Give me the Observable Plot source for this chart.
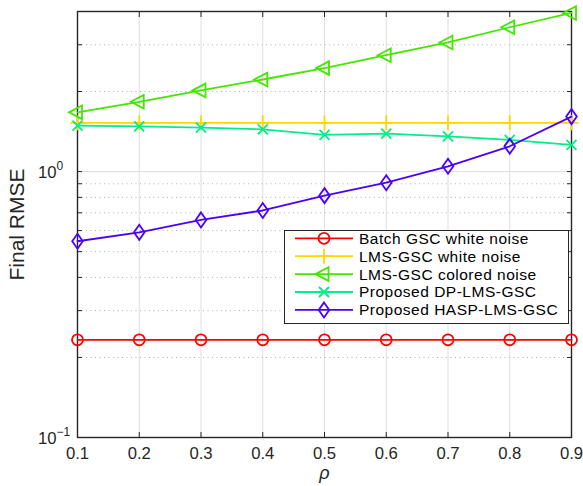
<!DOCTYPE html>
<html><head><meta charset="utf-8">
<script src="https://cdn.jsdelivr.net/npm/d3@7"></script>
<script src="https://cdn.jsdelivr.net/npm/@observablehq/plot@0.6"></script>
<style>
body{margin:0;background:#fff;}
#wrap{position:relative;width:583px;height:486px;font-family:"Liberation Sans",Arial,sans-serif;}
#legend{position:absolute;left:284px;top:230px;}
</style></head><body><div id="wrap"></div>
<script>
// ---- data ----
const rho = [0.1, 0.2, 0.3, 0.4, 0.5, 0.6, 0.7, 0.8, 0.9];
const batchGscWhite = [0.233, 0.233, 0.233, 0.233, 0.233, 0.233, 0.233, 0.233, 0.233];
const lmsGscWhite = [1.525, 1.525, 1.525, 1.525, 1.525, 1.525, 1.525, 1.525, 1.525];
const lmsGscColored = [1.67, 1.83, 2.02, 2.22, 2.45, 2.74, 3.06, 3.49, 3.95];
const dpLmsGsc = [1.49, 1.48, 1.463, 1.442, 1.374, 1.39, 1.356, 1.315, 1.26];
const haspLmsGsc = [0.547, 0.591, 0.658, 0.714, 0.812, 0.908, 1.047, 1.245, 1.61];
const seriesNames = ["Batch GSC white noise", "LMS-GSC white noise", "LMS-GSC colored noise", "Proposed DP-LMS-GSC", "Proposed HASP-LMS-GSC"];
const seriesValues = [batchGscWhite, lmsGscWhite, lmsGscColored, dpLmsGsc, haspLmsGsc];
const seriesColors = ["#ff0000", "#ffd700", "#44e600", "#00ee88", "#4a00ff"];
const seriesMarkers = ["circle", "plus", "triangleLeft", "times", "diamond"];
const xTicks = [0.1, 0.2, 0.3, 0.4, 0.5, 0.6, 0.7, 0.8, 0.9];
const yMajorTicks = [0.1, 1];
const yMinorTicks = [0.2, 0.3, 0.4, 0.5, 0.6, 0.7, 0.8, 0.9, 2, 3, 4];
const yTickBase = ["10", "10"];
const yTickExp = ["\u22121", "0"];
const xLabel = "\u03c1";
const yLabel = "Final RMSE";

// ---- marker shapes ----
const markerShapes = {
  circle: {draw(c){ c.moveTo(5.5,0); c.arc(0,0,5.5,0,2*Math.PI); c.closePath(); }},
  plus: {draw(c){ c.moveTo(-7,0); c.lineTo(7,0); c.moveTo(0,-7.5); c.lineTo(0,7.5); }},
  triangleLeft: {draw(c){ c.moveTo(-8.5,0); c.lineTo(4.5,-6.8); c.lineTo(4.5,6.8); c.closePath(); }},
  times: {draw(c){ c.moveTo(-5,-5); c.lineTo(5,5); c.moveTo(-5,5); c.lineTo(5,-5); }},
  diamond: {draw(c){ c.moveTo(0,-7.5); c.lineTo(5.3,0); c.lineTo(0,7.5); c.lineTo(-5.3,0); c.closePath(); }}
};

const rows = seriesNames.map((name, s) => rho.map((r, i) => ({rho: r, value: seriesValues[s][i], series: name})));
const axisColor = "#262626";
const allYTicks = [...yMajorTicks, ...yMinorTicks];

const marks = [
  Plot.gridX(xTicks, {stroke: "#dedede", strokeOpacity: 1, strokeWidth: 1}),
  Plot.ruleY(yMinorTicks, {stroke: "#b0b0b0", strokeWidth: 1, strokeDasharray: "1,3.5"}),
  Plot.gridY([1], {stroke: "#dedede", strokeOpacity: 1, strokeWidth: 1}),
  // inward ticks on all four sides
  Plot.axisX(xTicks, {anchor: "bottom", tickSize: 5, dy: -5, tickFormat: () => "", label: null, stroke: axisColor}),
  Plot.axisX(xTicks, {anchor: "top", tickSize: 5, dy: 5, tickFormat: () => "", label: null, stroke: axisColor}),
  Plot.axisY(allYTicks, {anchor: "left", tickSize: 5, dx: 5, tickFormat: () => "", label: null, stroke: axisColor}),
  Plot.axisY(allYTicks, {anchor: "right", tickSize: 5, dx: -5, tickFormat: () => "", label: null, stroke: axisColor}),
  // tick labels
  Plot.axisX(xTicks, {anchor: "bottom", tickSize: 0, tickPadding: 10, tickFormat: d => d.toFixed(1), label: null, fontSize: 16.7, fill: axisColor}),
  Plot.text(yMajorTicks, {y: d => d, frameAnchor: "left", textAnchor: "end", lineAnchor: "middle", dx: -21, dy: 1.5, fontSize: 16.7, fill: axisColor, text: (d, i) => yTickBase[i]}),
  Plot.text(yMajorTicks, {y: d => d, frameAnchor: "left", textAnchor: "start", lineAnchor: "middle", dx: -21, dy: -5.5, fontSize: 12, fill: axisColor, text: (d, i) => yTickExp[i]}),
  Plot.text([xLabel], {frameAnchor: "bottom", textAnchor: "middle", lineAnchor: "middle", dy: 36, fontSize: 18, fontStyle: "italic", fill: axisColor}),
  Plot.text([yLabel], {frameAnchor: "middle", textAnchor: "middle", lineAnchor: "middle", rotate: -90, dx: -307, fontSize: 21, fill: axisColor}),
  Plot.frame({stroke: axisColor, strokeWidth: 1.4})
];
seriesNames.forEach((name, s) => {
  marks.push(Plot.line(rows[s], {x: "rho", y: "value", stroke: seriesColors[s], strokeWidth: 1.8}));
  marks.push(Plot.dot(rows[s], {x: "rho", y: "value", symbol: markerShapes[seriesMarkers[s]], r: 5, fill: "none", stroke: seriesColors[s], strokeWidth: 1.8}));
});

const chart = Plot.plot({
  width: 583, height: 486,
  marginLeft: 77, marginRight: 12, marginTop: 11, marginBottom: 49,
  style: {fontFamily: '"Liberation Sans", Arial, sans-serif', fontSize: "16.7px", color: axisColor, background: "#fff"},
  x: {domain: [0.1, 0.9]},
  y: {type: "log", domain: [0.1, 4]},
  marks
});
const wrap = document.getElementById("wrap");
wrap.appendChild(chart);

// ---- legend ----
const lw = 285, lh = 94, rowY0 = 8.3, rowStep = 17.9;
const leg = d3.select(wrap).append("svg").attr("id", "legend").attr("width", lw).attr("height", lh);
leg.append("rect").attr("x", 0.5).attr("y", 0.5).attr("width", lw - 1).attr("height", lh - 1)
  .attr("fill", "#fff").attr("stroke", axisColor).attr("stroke-width", 1);
seriesNames.forEach((name, s) => {
  const y = rowY0 + s * rowStep;
  const g = leg.append("g");
  g.append("line").attr("x1", 11).attr("x2", 69).attr("y1", y).attr("y2", y)
    .attr("stroke", seriesColors[s]).attr("stroke-width", 1.8);
  const p = d3.path(); markerShapes[seriesMarkers[s]].draw(p);
  g.append("path").attr("d", p.toString()).attr("transform", `translate(40,${y})`)
    .attr("fill", "none").attr("stroke", seriesColors[s]).attr("stroke-width", 1.8);
  g.append("text").attr("x", 75).attr("y", y + 5.4).attr("font-size", 15.5).attr("letter-spacing", 0.5)
    .attr("fill", "#000").attr("font-family", '"Liberation Sans", Arial, sans-serif').text(name);
});
</script></body></html>
